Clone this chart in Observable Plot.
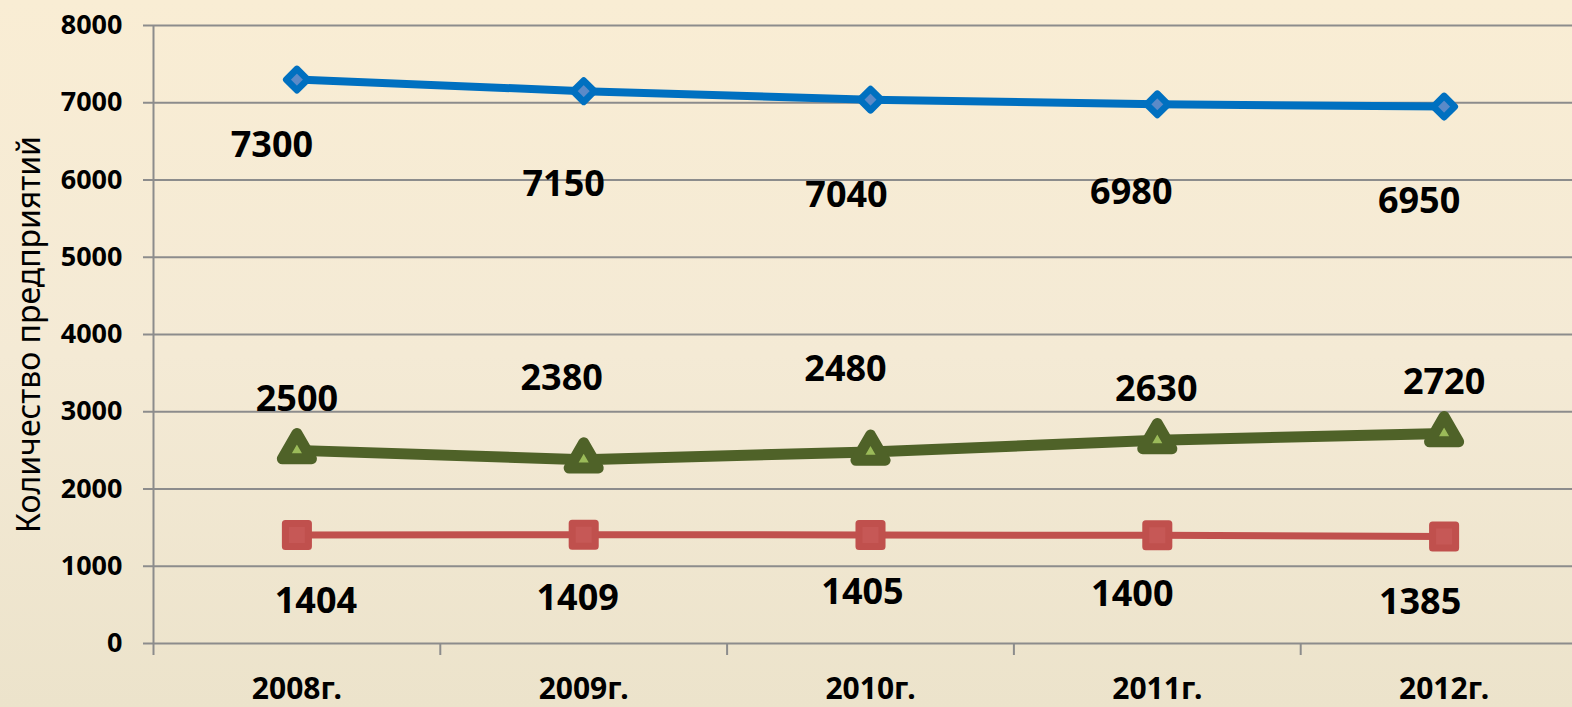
<!DOCTYPE html>
<html>
<head>
<meta charset="utf-8">
<script src="https://cdn.jsdelivr.net/npm/d3@7"></script>
<script src="https://cdn.jsdelivr.net/npm/@observablehq/plot@0.6"></script>
<style>
  html, body { margin: 0; padding: 0; }
  body {
    width: 1572px; height: 707px; overflow: hidden;
    background: linear-gradient(180deg, #f9edd4 0%, #f4ead5 50%, #ece3cb 100%);
    font-family: "Noto Sans", sans-serif;
  }
  #chart svg { display: block; }
</style>
</head>
<body>
<div id="chart"></div>
<script>
// ---- data ----
const years = ["2008г.", "2009г.", "2010г.", "2011г.", "2012г."];
const blueValues = [7300, 7150, 7040, 6980, 6950];
const redValues = [1404, 1409, 1405, 1400, 1385];
const greenValues = [2500, 2380, 2480, 2630, 2720];
const yTicks = [0, 1000, 2000, 3000, 4000, 5000, 6000, 7000, 8000];
const yTitle = "Количество предприятий";

// manual label placement (offsets from the marker, px), as in the original
const blueLabelDx = [-25, -20, -24, -26, -25];
const blueLabelDy = [66, 93, 96, 88, 95];
const greenLabelDx = [0, -22, -25, -1, 0];
const greenLabelDy = [-51, -81, -82, -51, -51];
const redLabelDx = [19, -6, -8, -25, -24];
const redLabelDy = [66, 64, 58, 59, 66];

// ---- tables ----
const toRows = (values) => values.map((value, i) => ({i, year: years[i], value}));
const blueRows = toRows(blueValues);
const redRows = toRows(redValues);
const greenRows = toRows(greenValues);
const edges = years.map((_, i) => i - 0.5).concat([years.length - 0.5]);

const FONT = "Noto Sans";
const GRID = "#8c8c8c";

function labels(rows, dxs, dys) {
  return rows.map((r, k) => Plot.text([r], {
    x: "i", y: "value", text: d => String(d.value),
    dx: dxs[k], dy: dys[k],
    fontSize: 36, fontWeight: "bold", fontFamily: FONT, fill: "#000",
    textAnchor: "middle", lineAnchor: "middle"
  }));
}

const chart = Plot.plot({
  width: 1572,
  height: 707,
  marginLeft: 153,
  marginRight: -15,
  marginTop: 25,
  marginBottom: 64,
  style: {background: "transparent", fontFamily: FONT, overflow: "hidden"},
  x: {type: "linear", domain: [-0.5, years.length - 0.5]},
  y: {domain: [0, 8000]},
  marks: [
    // gridlines
    Plot.ruleY(yTicks, {stroke: GRID, strokeWidth: 2}),
    // vertical axis line
    Plot.ruleX([-0.5], {y1: 0, y2: 8000, stroke: GRID, strokeWidth: 2}),
    // y axis: ticks + labels
    Plot.axisY({
      ticks: yTicks, tickSize: 10, tickPadding: 21, tickFormat: d => String(d),
      stroke: GRID, strokeWidth: 2, fill: "#000",
      fontSize: 27, fontWeight: "bold", fontFamily: FONT, label: null
    }),
    // x axis tick marks at category boundaries
    Plot.axisX({
      ticks: edges, tickSize: 12, tickFormat: () => "",
      stroke: GRID, strokeWidth: 2, label: null
    }),
    // x axis labels
    Plot.axisX({
      ticks: years.map((_, i) => i), tickSize: 0, tickPadding: 34,
      tickFormat: i => years[i], fill: "#000",
      fontSize: 30, fontWeight: "bold", fontFamily: FONT, label: null
    }),
    // y title
    Plot.text([yTitle], {
      frameAnchor: "left", dx: -124, rotate: -90, text: d => d,
      fontSize: 32, fontFamily: FONT, fill: "#000",
      textAnchor: "middle", lineAnchor: "middle"
    }),
    // series: blue
    Plot.line(blueRows, {x: "i", y: "value", stroke: "#0070c0", strokeWidth: 8}),
    Plot.dot(blueRows, {x: "i", y: "value", symbol: "diamond2", r: 9.6,
      fill: "#5b8ac8", stroke: "#0070c0", strokeWidth: 6.6, strokeLinejoin: "round"}),
    // series: red
    Plot.line(redRows, {x: "i", y: "value", stroke: "#c0504d", strokeWidth: 7}),
    Plot.dot(redRows, {x: "i", y: "value", symbol: "square", r: 13,
      fill: "#c65856", stroke: "#c0504d", strokeWidth: 7, strokeLinejoin: "round"}),
    // series: green
    Plot.line(greenRows, {x: "i", y: "value", stroke: "#4f6228", strokeWidth: 11}),
    Plot.dot(greenRows, {x: "i", y: "value", symbol: "triangle", r: 10.8,
      fill: "#9bbb59", stroke: "#4f6228", strokeWidth: 11, strokeLinejoin: "round"}),
    // data labels
    ...labels(blueRows, blueLabelDx, blueLabelDy),
    ...labels(greenRows, greenLabelDx, greenLabelDy),
    ...labels(redRows, redLabelDx, redLabelDy)
  ]
});
document.getElementById("chart").appendChild(chart);
</script>
</body>
</html>
